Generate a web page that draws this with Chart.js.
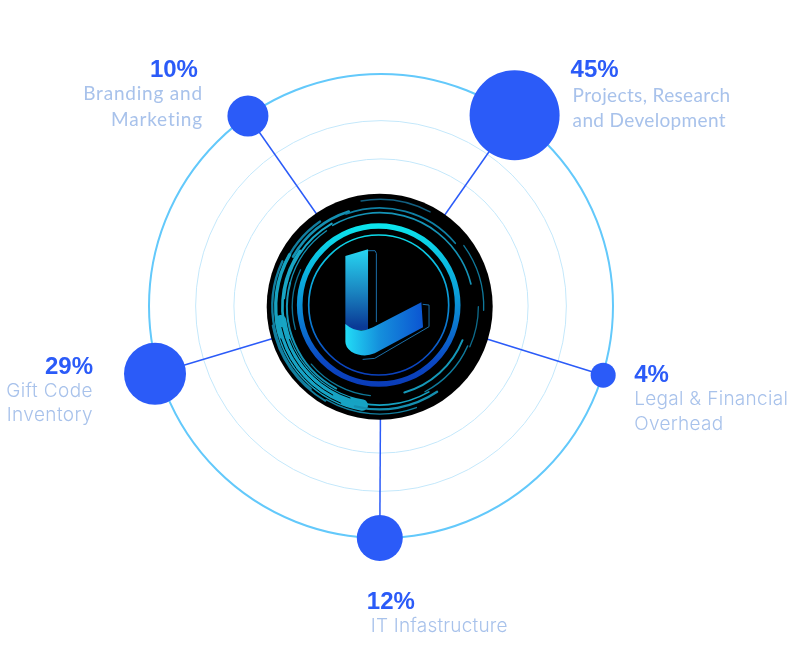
<!DOCTYPE html>
<html>
<head>
<meta charset="utf-8">
<title>Allocation</title>
<script src="https://cdn.jsdelivr.net/npm/chart.js@4/dist/chart.umd.min.js"></script>
<style>
    html, body { margin: 0; padding: 0; background: #fff; }
    canvas { display: block; }
</style>
</head>
<body>
<canvas id="fundsChart" width="810" height="660"></canvas>
<script>
// Data, clockwise from the top right
const categories = [
    ['Projects, Research', 'and Development'],
    ['Legal & Financial', 'Overhead'],
    ['IT Infastructure'],
    ['Gift Code', 'Inventory'],
    ['Branding and', 'Marketing']
];
const shares = [45, 4, 12, 29, 10];
// the dots sit on the outer ring (100), at these bearings (degrees from the top)
const ringPlacement = [100.4, 100.3, 100, 101.7, 100];
const bearings = [35, 107.3, 180.3, 253.3, 325];
const ringTicks = [0, 63.4, 79.9, 100];

// Styling
const dotRadius = [45, 12.5, 23, 31, 20.5];
const blue = '#2b5bf8';
const nameColor = '#a8c2eb';
// offset of the percent text from its dot, offset of the names, alignment, letter spacing
const labelLayout = [
    { dx: 56, dy: -38, nameDx: 58, nameDy: -13, gap: 25, align: 'left', spacing: 0.35, font: '400 19px Lato' },
    { dx: 31, dy: 7, nameDx: 31, nameDy: 30, gap: 25, align: 'left', spacing: 0.3, font: '300 19px Inter' },
    { dx: -13, dy: 71, nameDx: -9, nameDy: 94, gap: 25, align: 'left', spacing: 0.2, font: '300 19px Inter' },
    { dx: -62, dy: 0, nameDx: -62, nameDy: 23, gap: 24, align: 'right', spacing: 0.4, font: '300 19px Inter' },
    { dx: -50, dy: -39, nameDx: -45, nameDy: -16, gap: 26, align: 'right', spacing: 0.8, font: '400 19px Lato' }
];

// Swirl strokes of the centre badge: radius, start, end (degrees), width, colour
const swirls = [
    [300, 100, 172, 34, '#17a3c4'],
    [326, 120, 170, 6, '#127f9f'],
    [322, -100, -62, 4, '#125f80'],
    [300, -150, -108, 8, '#1590b2'],
    [312, -158, -125, 7, '#127d9f'],
    [288, -175, -120, 6, '#1aa5c6'],
    [278, -165, -125, 4, '#1590b2'],
    [282, -120, -14, 5, '#1593b6'],
    [296, -110, -40, 5, '#0f7fa3'],
    [312, -36, 2, 4, '#10789a'],
    [296, 0, 24, 4, '#0d6a8a'],
    [268, 22, 74, 6, '#1598b8'],
    [289, 24, 62, 4, '#107a9c'],
    [308, 56, 104, 7, '#158fb0'],
    [295, 60, 110, 5, '#16a3c2'],
    [322, 70, 120, 4, '#127f9f'],
    [322, 130, 205, 7, '#127f9f'],
    [312, 165, 210, 10, '#17a3c0'],
    [292, 165, 215, 8, '#18a6c4'],
    [278, 118, 195, 6, '#1595b6'],
    [268, 96, 140, 4, '#0f7898'],
    [262, 165, 205, 4, '#0e6f90'],
    // dark strands across the heavy band
    [288, 108, 160, 3, '#000000'],
    [300, 118, 168, 3, '#000000'],
    [312, 112, 162, 3, '#000000']
];

function ringColor(ctx) {
    return ctx.tick && ctx.tick.value === 100 ? '#63c9fb' : '#c4e8fb';
}

function ringWidth(ctx) {
    return ctx.tick && ctx.tick.value === 100 ? 2 : 1;
}

// Black badge with the logo in the middle of the rings
const badgePlugin = {
    id: 'badge',
    beforeDatasetsDraw(chart) {
        const scale = chart.scales.r;
        const c = chart.ctx;
        c.save();
        c.translate(scale.xCenter - 1.3, scale.yCenter + 0.7);
        c.beginPath();
        c.arc(0, 0, 113, 0, Math.PI * 2);
        c.fillStyle = '#000';
        c.fill();

        // the logo was measured at three times its size
        c.scale(1 / 3, 1 / 3);
        c.lineCap = 'round';
        swirls.forEach(function (s) {
            c.beginPath();
            c.arc(0, 0, s[0], s[1] * Math.PI / 180, s[2] * Math.PI / 180);
            c.lineWidth = s[3];
            c.strokeStyle = s[4];
            c.stroke();
        });

        const ringFill = c.createLinearGradient(0, -245, 0, 235);
        ringFill.addColorStop(0, '#0ce4ec');
        ringFill.addColorStop(0.45, '#0b9ad8');
        ringFill.addColorStop(0.85, '#0b48c4');
        ringFill.addColorStop(1, '#0a3cb8');
        c.strokeStyle = ringFill;
        c.beginPath();
        c.arc(-3, -5, 237, 0, Math.PI * 2);
        c.lineWidth = 17;
        c.stroke();
        c.beginPath();
        c.arc(-3, -5, 210, 0, Math.PI * 2);
        c.lineWidth = 5;
        c.stroke();

        // faint outline behind the L
        c.strokeStyle = '#1b6ea8';
        c.lineWidth = 3;
        c.lineJoin = 'round';
        c.beginPath();
        c.moveTo(-38, -168);
        c.lineTo(-14, -168);
        c.lineTo(-10, -160);
        c.lineTo(-10, 45);
        c.stroke();
        c.beginPath();
        c.moveTo(130, -7);
        c.lineTo(148, -5);
        c.lineTo(148, 60);
        c.lineTo(-15, 155);
        c.lineTo(-50, 158);
        c.stroke();

        // upright of the L
        const stem = c.createLinearGradient(0, -172, 0, 60);
        stem.addColorStop(0, '#27d6f2');
        stem.addColorStop(0.55, '#1a84c0');
        stem.addColorStop(1, '#0a3a96');
        c.fillStyle = stem;
        c.beginPath();
        c.moveTo(-103, -152);
        c.lineTo(-35, -172);
        c.lineTo(-35, 70);
        c.lineTo(-103, 70);
        c.closePath();
        c.fill();

        // foot of the L
        const foot = c.createLinearGradient(-103, 0, 150, 0);
        foot.addColorStop(0, '#22dcf6');
        foot.addColorStop(0.4, '#1590dc');
        foot.addColorStop(1, '#0a4cd0');
        c.fillStyle = foot;
        c.beginPath();
        c.moveTo(-103, 52);
        c.quadraticCurveTo(-65, 85, -20, 62);
        c.lineTo(125, -13);
        c.lineTo(130, 62);
        c.lineTo(-15, 140);
        c.quadraticCurveTo(-50, 155, -85, 135);
        c.quadraticCurveTo(-103, 122, -103, 105);
        c.closePath();
        c.fill();
        c.restore();
    }
};

// Percent and name next to each dot
const calloutPlugin = {
    id: 'callouts',
    afterDatasetsDraw(chart) {
        const c = chart.ctx;
        const points = chart.getDatasetMeta(0).data;
        c.save();
        c.textBaseline = 'alphabetic';
        points.forEach(function (pt, i) {
            const l = labelLayout[i];
            c.textAlign = l.align;
            c.letterSpacing = '0px';
            c.font = 'bold 24px "Liberation Sans"';
            c.fillStyle = blue;
            c.fillText(shares[i] + '%', pt.x + l.dx, pt.y + l.dy);

            c.font = l.font;
            c.letterSpacing = l.spacing + 'px';
            c.fillStyle = nameColor;
            categories[i].forEach(function (line, n) {
                c.fillText(line, pt.x + l.nameDx, pt.y + l.nameDy + n * l.gap);
            });
        });
        c.restore();
    }
};

const ctx = document.getElementById('fundsChart').getContext('2d');
new Chart(ctx, {
    type: 'radar',
    data: {
        labels: categories,
        datasets: [{
            data: ringPlacement,
            showLine: false,
            fill: false,
            clip: false,
            pointRadius: dotRadius,
            pointHoverRadius: dotRadius,
            pointBackgroundColor: blue,
            pointBorderWidth: 0
        }]
    },
    options: {
        responsive: false,
        animation: false,
        events: [],
        layout: { padding: { left: 149.3, right: 196.7, top: 74, bottom: 122 } },
        plugins: {
            legend: { display: false },
            title: { display: false },
            tooltip: { enabled: false }
        },
        scales: {
            r: {
                min: 0,
                max: 100,
                // the spokes are not quite evenly spread in the picture
                afterDataLimits: function (scale) {
                    scale.getIndexAngle = function (i) {
                        return bearings[i] * Math.PI / 180;
                    };
                },
                afterBuildTicks: function (scale) {
                    scale.ticks = ringTicks.map(function (v) { return { value: v }; });
                },
                ticks: { display: false },
                pointLabels: { display: false },
                grid: { circular: true, color: ringColor, lineWidth: ringWidth },
                angleLines: { color: blue, lineWidth: 1.5 }
            }
        }
    },
    plugins: [badgePlugin, calloutPlugin]
});
</script>
</body>
</html>
